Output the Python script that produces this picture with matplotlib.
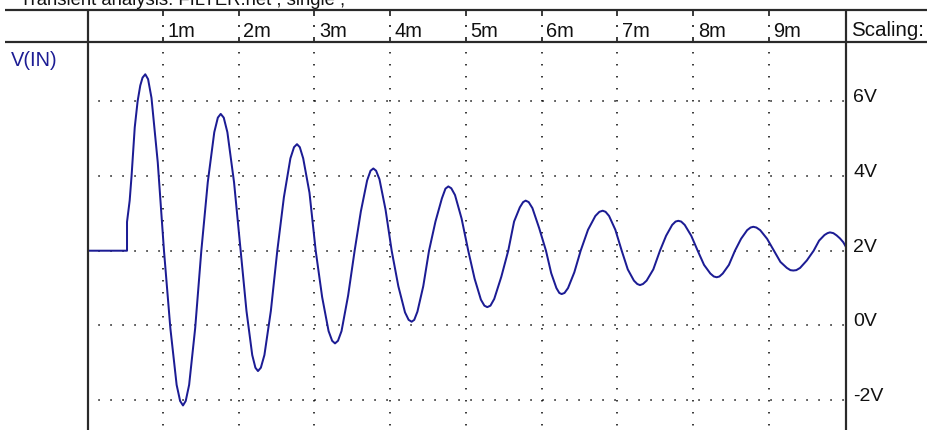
import matplotlib
matplotlib.use('Agg')
import matplotlib.pyplot as plt
from matplotlib.lines import Line2D
from matplotlib.transforms import offset_copy

# ---------------- data ----------------
t_ms = [0.000, 0.525, 0.525, 0.560, 0.585, 0.627, 0.665, 0.700, 0.730, 0.766,
        0.803, 0.848, 0.931, 1.013,
        1.097, 1.180, 1.226, 1.264,
        1.300, 1.345, 1.425, 1.506,
        1.591, 1.677, 1.724, 1.762,
        1.802, 1.850, 1.938, 2.026,
        2.102, 2.178, 2.220, 2.254,
        2.292, 2.339, 2.424, 2.509,
        2.596, 2.682, 2.730, 2.769,
        2.806, 2.851, 2.934, 3.016,
        3.101, 3.186, 3.233, 3.271,
        3.310, 3.357, 3.444, 3.530,
        3.612, 3.695, 3.740, 3.777,
        3.813, 3.858, 3.938, 4.019,
        4.107, 4.195, 4.243, 4.283,
        4.317, 4.359, 4.436, 4.512,
        4.597, 4.682, 4.729, 4.767,
        4.806, 4.855, 4.942, 5.030,
        5.114, 5.197, 5.243, 5.281,
        5.323, 5.373, 5.466, 5.558,
        5.635, 5.711, 5.754, 5.788,
        5.828, 5.877, 5.967, 6.056,
        6.125, 6.194, 6.232, 6.263,
        6.301, 6.347, 6.430, 6.514,
        6.611, 6.708, 6.761, 6.805,
        6.843, 6.889, 6.972, 7.056,
        7.136, 7.217, 7.261, 7.297,
        7.337, 7.385, 7.473, 7.561,
        7.642, 7.722, 7.767, 7.803,
        7.841, 7.888, 7.974, 8.059,
        8.143, 8.226, 8.272, 8.310,
        8.346, 8.390, 8.471, 8.551,
        8.632, 8.712, 8.757, 8.793,
        8.834, 8.884, 8.975, 9.066,
        9.151, 9.236, 9.283, 9.321,
        9.361, 9.411, 9.500, 9.590,
        9.662, 9.733, 9.773, 9.805,
        9.850, 9.893, 9.937, 9.980, 10.017]
v_in = [2.00, 2.00, 2.77, 3.34, 4.00, 5.30, 6.00, 6.42, 6.63, 6.72,
        6.59, 6.09, 4.36, 2.00,
        -0.07, -1.59, -2.02, -2.14,
        -2.02, -1.59, -0.07, 2.00,
        3.83, 5.17, 5.56, 5.66,
        5.56, 5.17, 3.83, 2.00,
        0.39, -0.79, -1.13, -1.22,
        -1.13, -0.79, 0.39, 2.00,
        3.43, 4.47, 4.77, 4.85,
        4.77, 4.47, 3.55, 2.00,
        0.76, -0.15, -0.41, -0.48,
        -0.41, -0.15, 0.80, 2.00,
        3.05, 3.88, 4.14, 4.20,
        4.14, 3.91, 3.10, 2.00,
        1.05, 0.35, 0.15, 0.10,
        0.15, 0.37, 1.05, 2.00,
        2.78, 3.40, 3.66, 3.72,
        3.67, 3.49, 2.86, 2.00,
        1.25, 0.69, 0.53, 0.49,
        0.53, 0.71, 1.30, 2.00,
        2.78, 3.16, 3.30, 3.34,
        3.30, 3.14, 2.60, 2.00,
        1.40, 1.00, 0.87, 0.84,
        0.87, 1.00, 1.42, 2.00,
        2.56, 2.93, 3.04, 3.07,
        3.04, 2.93, 2.56, 2.00,
        1.50, 1.20, 1.11, 1.08,
        1.11, 1.20, 1.50, 2.00,
        2.40, 2.69, 2.78, 2.80,
        2.78, 2.69, 2.40, 2.00,
        1.62, 1.39, 1.31, 1.29,
        1.31, 1.39, 1.62, 2.00,
        2.32, 2.55, 2.62, 2.64,
        2.62, 2.55, 2.32, 2.00,
        1.70, 1.54, 1.48, 1.47,
        1.48, 1.54, 1.74, 2.00,
        2.27, 2.42, 2.47, 2.49,
        2.47, 2.41, 2.33, 2.23, 2.10]

x_ticks_ms = [1, 2, 3, 4, 5, 6, 7, 8, 9]
x_tick_labels = ['1m', '2m', '3m', '4m', '5m', '6m', '7m', '8m', '9m']
y_ticks_v = [6, 4, 2, 0, -2]
y_tick_labels = ['6V', '4V', '2V', '0V', '-2V']
title_text = 'Transient analysis: FILTER.net , single ;'
trace_label = 'V(IN)'
scale_header = 'Scaling:'

# ---------------- layout ----------------
W, H, DPI = 928, 431, 100
plt.rcParams['font.family'] = ['Liberation Sans', 'DejaVu Sans']
plt.rcParams['lines.scale_dashes'] = False

TRACE = '#1c1c94'
FRAME = '#2a2a2a'
TXT = '#111111'
PT = 72.0 / DPI  # points per pixel

fig = plt.figure(figsize=(W / DPI, H / DPI), dpi=DPI)
fig.patch.set_facecolor('white')

def fx(x):
    return x / W

def fy(y):
    return 1 - y / H

ax_left, ax_right, ax_top, ax_bottom = 87.25, 846.0, 43.0, 431.0
ax = fig.add_axes([fx(ax_left), fy(ax_bottom), (ax_right - ax_left) / W,
                   (ax_bottom - ax_top) / H])
ax.set_xlim(0, 10.017)
ax.set_ylim(-2.797, 7.584)
ax.axis('off')

def ya(y):
    # pixel row -> axes y fraction
    return (ax_bottom - y) / (ax_bottom - ax_top)

# dotted grid
dot_style = (0.7 * PT, (1.5 * PT, 10.5 * PT))
for v in y_ticks_v:
    ax.axhline(v, color='black', lw=1.5 * PT, linestyle=dot_style,
               dash_capstyle='butt', zorder=1)
vdot_style = (2.0 * PT, (1.5 * PT, 10.5 * PT))
for t in x_ticks_ms:
    ax.axvline(t, ymin=1, ymax=0, color='black', lw=1.5 * PT,
               linestyle=vdot_style, dash_capstyle='butt', zorder=1)

# trace
ax.plot(t_ms, v_in, color=TRACE, lw=2.0 * PT, solid_joinstyle='round', zorder=3)

# header tick marks and labels
xt = ax.get_xaxis_transform()
for t, lab in zip(x_ticks_ms, x_tick_labels):
    for y0, y1 in [(12, 17), (26, 28), (38, 43)]:
        ax.plot([t, t], [ya(y0), ya(y1)], transform=xt, color='black',
                lw=1.5 * PT, clip_on=False, solid_capstyle='butt')
    ax.text(t, ya(36.7), lab, transform=offset_copy(xt, fig=fig, x=4.5, y=0, units='dots'),
            ha='left', va='baseline', fontsize=20 * PT, color=TXT, clip_on=False)

# right-hand scale labels
yt = ax.get_yaxis_transform()
for v, lab in zip(y_ticks_v, y_tick_labels):
    ax.text((853 - ax_left) / (ax_right - ax_left), v, lab, transform=yt,
            ha='left', va='baseline', fontsize=19.5 * PT, color=TXT, clip_on=False)

# frame lines
for (x0, y0, x1, y1) in [(5, 11, 928, 11), (5, 43, 928, 43),
                         (88, 11, 88, 431), (846, 11, 846, 431)]:
    fig.add_artist(Line2D([fx(x0), fx(x1)], [fy(y0), fy(y1)], color=FRAME,
                          lw=2.2 * PT, solid_capstyle='butt'))

# texts
fig.text(fx(20), fy(5), title_text, ha='left', va='baseline',
         fontsize=18.5 * PT, color=TXT)
fig.text(fx(851), fy(36.3), scale_header, ha='left', va='baseline',
         fontsize=20.5 * PT, color=TXT)
fig.text(fx(11), fy(66.5), trace_label, ha='left', va='baseline',
         fontsize=20 * PT, color=TRACE)

fig.savefig('out.png', dpi=DPI, facecolor='white')
